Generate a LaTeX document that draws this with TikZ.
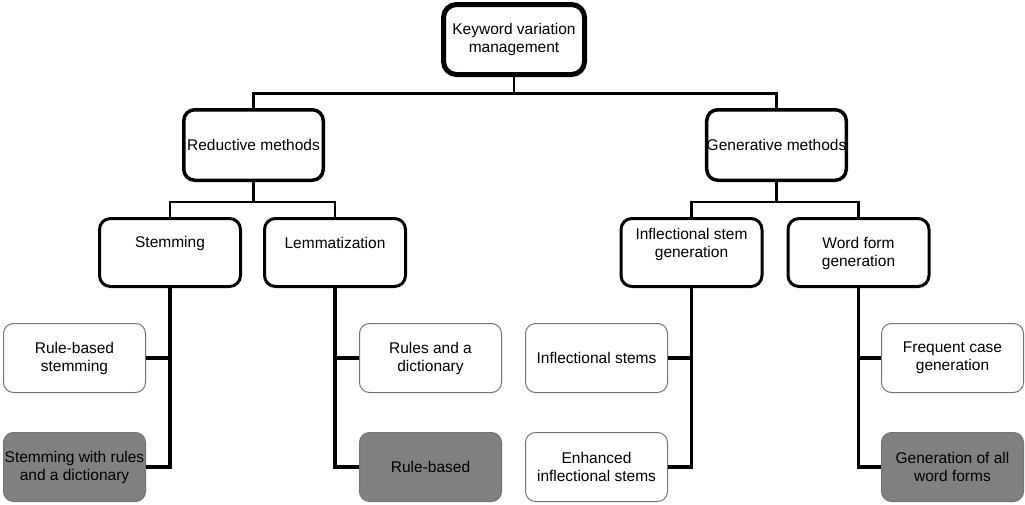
\documentclass[tikz,border=0pt]{standalone}
\usepackage{fontspec}
\setmainfont{Liberation Sans}
\begin{document}
\begin{tikzpicture}[x=1pt,y=-1pt,
  txt/.style={font=\fontsize{15.5}{18}\selectfont, align=center},
  rootbox/.style={txt, draw=black, line width=5pt, rounded corners=13pt,
    fill=white, minimum width=141pt, minimum height=70pt, inner sep=0pt},
  methodbox/.style={txt, draw=black, line width=3.5pt, rounded corners=11pt,
    fill=white, minimum width=139.5pt, minimum height=70.5pt, inner sep=0pt},
  kindbox/.style={draw=black, line width=3pt, rounded corners=11pt,
    fill=white, minimum width=141pt, minimum height=68pt, inner sep=0pt},
  leafbox/.style={txt, draw=black!55, line width=1pt, rounded corners=10pt,
    fill=white, minimum width=142pt, minimum height=69pt, inner sep=0pt},
  greyleaf/.style={leafbox, fill=black!50},
  bus/.style={line width=2.5pt},
  twig/.style={line width=3.5pt}
]
\useasboundingbox (0,0) rectangle (1025,504);

% root
\node[rootbox] (root) at (514,39.5) {Keyword variation\\management};

% two families of methods
\node[methodbox] (red) at (253.5,145) {Reductive methods};
\node[methodbox] (gen) at (776.5,145) {Generative methods};

% method kinds
\node[kindbox] (stem) at (170,252.5) {};
\node[kindbox] (lemma) at (335,252.5) {};
\node[kindbox] (infl) at (691.5,252.5) {};
\node[kindbox] (wform) at (858.5,252.5) {};
\node[txt] (stem-t) at ([yshift=9.5pt]stem.center) {Stemming};
\node[txt] (lemma-t) at ([yshift=9.5pt]lemma.center) {Lemmatization};
\node[txt] (infl-t) at ([yshift=8.5pt]infl.center) {Inflectional stem\\generation};
\node[txt] (wform-t) at ([yshift=-0.5pt]wform.center) {Word form\\generation};

% leaves
\node[leafbox] (rbs) at (74.5,358) {Rule-based\\stemming};
\node[greyleaf] (swr) at (74.5,467) {Stemming with rules\\and a dictionary};
\node[leafbox] (rad) at (430.5,358) {Rules and a\\dictionary};
\node[greyleaf] (rb) at (430.5,467) {Rule-based};
\node[leafbox] (is) at (596.5,358) {Inflectional stems};
\node[leafbox] (eis) at (596.5,467) {Enhanced\\inflectional stems};
\node[leafbox] (fcg) at (952.5,358) {Frequent case\\generation};
\node[greyleaf] (gaw) at (952.5,467) {Generation of all\\word forms};

% tree connectors
\draw[bus] (root.south) -- +(0,16.5) -| (red.north);
\draw[bus] (root.south) -- +(0,16.5) -| (gen.north);
\draw[bus] (red.south) -- +(0,20) -| (stem.north);
\draw[bus] (red.south) -- +(0,20) -| (lemma.north);
\draw[bus] (gen.south) -- +(0,20) -| (infl.north);
\draw[bus] (gen.south) -- +(0,20) -| (wform.north);

\draw[twig] (stem.south) |- (rbs.east);
\draw[twig] (stem.south) |- (swr.east);
\draw[twig] (lemma.south) |- (rad.west);
\draw[twig] (lemma.south) |- (rb.west);
\draw[twig] (infl.south) |- (is.east);
\draw[twig] (infl.south) |- (eis.east);
\draw[twig] (wform.south) |- (fcg.west);
\draw[twig] (wform.south) |- (gaw.west);
\end{tikzpicture}
\end{document}
